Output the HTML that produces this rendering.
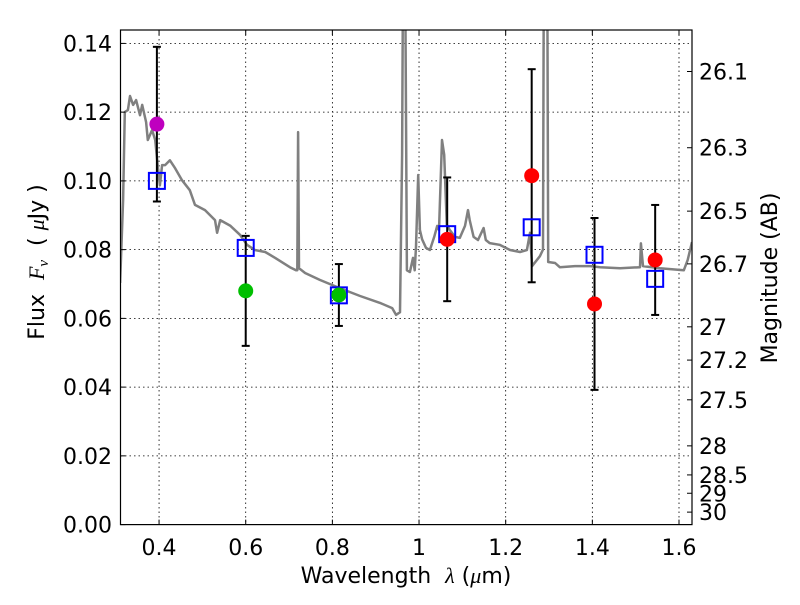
<!DOCTYPE html>
<html><head><meta charset="utf-8"><style>
body{margin:0;background:#fff}
svg text{font-family:"DejaVu Sans","Liberation Sans",sans-serif;fill:#000}
</style></head><body>
<svg id="chart" width="800" height="600" xmlns="http://www.w3.org/2000/svg">
<rect width="800" height="600" fill="#fff"/>
<defs><clipPath id="clip"><rect x="120.5" y="30" width="571.5" height="494.6"/></clipPath></defs>
<g id="grid"></g>
<g id="spec" clip-path="url(#clip)"></g>
<g id="marks"></g>
<rect x="120.5" y="30" width="571.5" height="494.6" fill="none" stroke="#000" stroke-width="1.2"/>
<g id="axes"></g>
<text x="406" y="583" font-size="22" text-anchor="middle" xml:space="preserve">Wavelength  <tspan font-style="italic" font-family="Liberation Serif,serif">λ</tspan> (<tspan font-style="italic" font-family="Liberation Serif,serif">μ</tspan>m)</text>
<text transform="translate(44,262) rotate(-90)" font-size="22" text-anchor="middle" xml:space="preserve">Flux  <tspan font-style="italic" font-family="Liberation Serif,serif">F</tspan><tspan font-style="italic" font-family="Liberation Serif,serif" font-size="15" dy="4">ν</tspan><tspan dy="-4">  ( </tspan><tspan font-style="italic" font-family="Liberation Serif,serif">μ</tspan>Jy )</text>
<text transform="translate(777,278) rotate(-90)" font-size="22" text-anchor="middle">Magnitude (AB)</text>
</svg>
<script>
const xTicks=[0.4,0.6,0.8,1.0,1.2,1.4,1.6];
const xTickLabels=["0.4","0.6","0.8","1","1.2","1.4","1.6"];
const yTicks=[0,0.02,0.04,0.06,0.08,0.10,0.12,0.14];
const yTickLabels=["0.00","0.02","0.04","0.06","0.08","0.10","0.12","0.14"];
const magTicks=[26.1,26.3,26.5,26.7,27,27.2,27.5,28,28.5,29,30];
const magTickLabels=["26.1","26.3","26.5","26.7","27","27.2","27.5","28","28.5","29","30"];
const specL=[0.310,0.317,0.321,0.328,0.333,0.340,0.347,0.356,0.361,0.370,0.374,0.384,0.391,0.398,0.402,0.407,0.414,0.425,0.437,0.453,0.471,0.483,0.506,0.529,0.534,0.541,0.564,0.587,0.603,0.621,0.645,0.668,0.702,0.716,0.719,0.721,0.723,0.737,0.771,0.817,0.864,0.910,0.938,0.947,0.956,0.961,0.963,0.968,0.972,0.979,0.986,0.990,0.993,0.998,1.002,1.007,1.016,1.025,1.035,1.042,1.046,1.053,1.058,1.064,1.071,1.083,1.094,1.106,1.113,1.117,1.126,1.136,1.149,1.154,1.163,1.186,1.210,1.233,1.249,1.256,1.261,1.279,1.286,1.288,1.296,1.298,1.314,1.325,1.360,1.395,1.418,1.464,1.510,1.512,1.517,1.556,1.611,1.620,1.630];
const specF=[0.0703,0.0944,0.1200,0.1206,0.1247,0.1221,0.1235,0.1191,0.1221,0.1171,0.1119,0.1148,0.1119,0.1031,0.0987,0.1046,0.1046,0.1060,0.1037,0.1002,0.0973,0.0930,0.0915,0.0886,0.0849,0.0886,0.0870,0.0843,0.0814,0.0799,0.0793,0.0776,0.0749,0.0740,0.0740,0.1142,0.0746,0.0732,0.0712,0.0688,0.0665,0.0645,0.0630,0.0610,0.0618,0.1076,0.16,0.16,0.0740,0.0735,0.0776,0.0740,0.0808,0.1017,0.0857,0.0830,0.0805,0.0799,0.0837,0.0869,0.0857,0.1119,0.1076,0.0872,0.0857,0.0837,0.0834,0.0869,0.0915,0.0886,0.0837,0.0828,0.0863,0.0828,0.0819,0.0814,0.0799,0.0793,0.0799,0.0849,0.0752,0.0781,0.0800,0.16,0.16,0.0764,0.0761,0.0749,0.0752,0.0752,0.0749,0.0746,0.0749,0.0818,0.0752,0.0746,0.0740,0.0770,0.0822];
const obsL=[0.395,0.600,0.815,1.065,1.260,1.405,1.545];
const obsF=[0.1165,0.068,0.0668,0.083,0.1015,0.0642,0.077];
const obsErr=[0.0225,0.016,0.009,0.018,0.031,0.025,0.016];
const obsColor=["#bf00bf","#00bf00","#00bf00","#ff0000","#ff0000","#ff0000","#ff0000"];
const modelF=[0.100,0.0805,0.0667,0.0845,0.0865,0.0785,0.0715];

const NS="http://www.w3.org/2000/svg";
const X0=120.5,X1=692,Y0=524.6,Y1=30;
const xmin=0.311,xmax=1.63,ymin=0,ymax=0.1439;
const sx=v=>X0+(v-xmin)/(xmax-xmin)*(X1-X0);
const sy=v=>Y0-(v-ymin)/(ymax-ymin)*(Y0-Y1);
const magToF=m=>Math.pow(10,(23.9-m)/2.5);
function mk(tag,attrs,parent){const e=document.createElementNS(NS,tag);for(const k in attrs)e.setAttribute(k,attrs[k]);parent.appendChild(e);return e;}
const grid=document.getElementById('grid'),axes=document.getElementById('axes'),spec=document.getElementById('spec'),marks=document.getElementById('marks');
xTicks.forEach((t,i)=>{const x=sx(t);
 const g=mk('line',{x1:x,x2:x,y1:Y1,y2:Y0,stroke:'#000','stroke-width':0.8,'stroke-dasharray':'1.5,3'},grid);
 
 
 mk('line',{x1:x,x2:x,y1:Y0,y2:Y0-5,stroke:'#000'},axes);
 mk('line',{x1:x,x2:x,y1:Y1,y2:Y1+5,stroke:'#000'},axes);
 const tx=mk('text',{x:x,y:555,'font-size':22,'text-anchor':'middle'},axes);tx.textContent=xTickLabels[i];
 
 
});
yTicks.forEach((t,i)=>{const y=sy(t);
 if(t>0){const g=mk('line',{x1:X0,x2:X1,y1:y,y2:y,stroke:'#000','stroke-width':0.8,'stroke-dasharray':'1.5,3'},grid);
 
 }
 mk('line',{x1:X0,x2:X0+5,y1:y,y2:y,stroke:'#000'},axes);
 const tx=mk('text',{x:112,y:y+8,'font-size':22,'text-anchor':'end'},axes);tx.textContent=yTickLabels[i];
 
 
});
magTicks.forEach((m,i)=>{const y=sy(magToF(m));
 mk('line',{x1:X1,x2:X1-5,y1:y,y2:y,stroke:'#000'},axes);
 const tx=mk('text',{x:699,y:y+8,'font-size':22},axes);tx.textContent=magTickLabels[i];
 
 
});
const d=specL.map((l,i)=>(i?'L':'M')+sx(l).toFixed(1)+','+sy(specF[i]).toFixed(1)).join(' ');
const p=mk('path',{d:d,fill:'none',stroke:'#808080','stroke-width':2.5,'stroke-linejoin':'round'},spec);


obsL.forEach((l,i)=>{const x=sx(l);
 const eb=mk('g',{stroke:'#000','stroke-width':2},marks);
 
 
 const yt=sy(obsF[i]+obsErr[i]),yb=sy(obsF[i]-obsErr[i]);
 mk('line',{x1:x,x2:x,y1:yt,y2:yb},eb);
 mk('line',{x1:x-4,x2:x+4,y1:yt,y2:yt},eb);
 mk('line',{x1:x-4,x2:x+4,y1:yb,y2:yb},eb);
});
obsL.forEach((l,i)=>{
 const s=mk('rect',{x:sx(l)-8,y:sy(modelF[i])-8,width:16,height:16,fill:'none',stroke:'#0000ff','stroke-width':2},marks);
 
 
});
obsL.forEach((l,i)=>{
 const c=mk('circle',{cx:sx(l),cy:sy(obsF[i]),r:7.5,fill:obsColor[i]},marks);
 
 
});
</script>
</body></html>
